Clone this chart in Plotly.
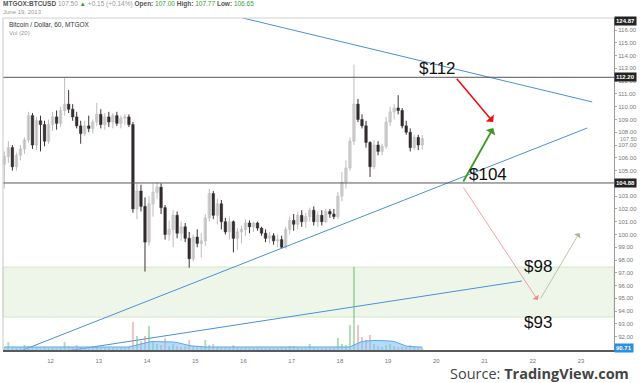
import plotly.graph_objects as go
import pandas as pd

# ---------------- data (2-hour candles, MTGOX BTCUSD, from 2013-06-11 00:00) ----------------
opens = [105.5, 106.1, 106.8, 105.3, 106.2, 106.7, 107.4, 109.3, 107.0, 108.9,
         108.6, 107.3, 108.6, 109.2, 108.7, 109.7, 110.2, 109.8, 109.2, 108.5,
         107.9, 108.5, 108.3, 108.8, 109.4, 108.6, 109.2, 108.8, 109.3, 108.7,
         109.1, 109.2, 108.6, 102.0, 103.4, 102.2, 99.4, 102.4, 103.3, 103.7,
         102.1, 100.0, 100.4, 101.5, 100.1, 100.6, 99.7, 98.1, 99.8, 99.3,
         99.5, 101.3, 103.2, 101.5, 102.4, 101.0, 100.2, 101.0, 99.7, 100.2,
         100.4, 100.9, 100.6, 100.9, 100.5, 100.1, 99.7, 99.9, 99.5, 99.6,
         99.0, 100.4, 101.1, 100.8, 101.5, 101.0, 101.4, 101.9, 101.0, 101.5,
         101.0, 101.8, 101.6, 101.4, 103.0, 104.1, 105.2, 107.3, 110.2, 109.0,
         108.5, 107.2, 105.3, 107.0, 106.5, 106.9, 108.8, 109.6, 109.9, 109.7,
         108.5, 108.0, 106.8, 107.6, 107.0]
highs = [106.5, 107.3, 107.0, 106.4, 107.0, 107.6, 109.6, 109.5, 109.2, 109.3,
         108.9, 109.0, 109.6, 109.7, 110.0, 112.25, 111.3, 110.2, 109.6, 108.9,
         108.9, 109.3, 109.0, 110.3, 109.8, 109.5, 109.6, 109.5, 109.6, 109.3,
         109.4, 109.4, 108.8, 104.0, 103.9, 102.9, 103.0, 104.0, 104.1, 104.0,
         102.3, 101.1, 101.9, 101.8, 101.0, 100.9, 100.2, 100.0, 100.4, 100.1,
         101.6, 103.6, 103.4, 102.8, 102.7, 101.3, 101.4, 101.1, 100.5, 100.7,
         101.2, 101.1, 101.0, 101.0, 100.6, 100.4, 100.2, 100.1, 100.0, 99.9,
         100.6, 101.4, 101.6, 101.8, 101.9, 101.7, 102.1, 102.2, 101.8, 101.9,
         102.0, 102.0, 102.0, 103.3, 104.9, 105.8, 107.6, 113.3, 110.6, 109.4,
         108.9, 107.3, 107.4, 107.3, 107.1, 109.2, 110.0, 110.2, 110.9, 109.9,
         108.9, 108.3, 107.8, 107.8, 107.77]
lows = [103.6, 105.6, 105.0, 105.0, 105.8, 106.3, 107.2, 106.7, 106.6, 106.5,
        106.9, 107.1, 108.1, 108.2, 108.4, 109.3, 109.5, 108.9, 108.3, 107.1,
        107.7, 108.0, 107.9, 108.5, 108.3, 108.2, 108.4, 108.3, 108.5, 108.3,
        108.6, 108.4, 101.7, 101.2, 101.8, 97.1, 99.1, 101.4, 102.8, 101.6,
        99.6, 99.5, 99.0, 99.7, 99.5, 99.4, 97.4, 97.9, 99.0, 98.2,
        99.1, 101.0, 101.2, 100.8, 100.4, 100.0, 99.6, 98.6, 98.8, 99.3,
        99.9, 100.1, 100.2, 100.3, 99.9, 99.4, 99.3, 99.2, 99.0, 98.9,
        98.9, 100.0, 100.3, 100.4, 100.6, 100.5, 101.0, 100.7, 100.6, 100.7,
        100.9, 101.3, 101.2, 101.2, 102.6, 103.6, 105.0, 107.0, 108.8, 108.3,
        106.8, 104.5, 105.1, 106.2, 106.2, 106.7, 108.5, 109.0, 109.4, 108.3,
        107.8, 106.5, 106.6, 106.6, 106.65]
closes = [106.1, 106.8, 105.3, 106.2, 106.7, 107.4, 109.3, 107.0, 108.9, 108.6,
          107.3, 108.6, 109.2, 108.7, 109.7, 110.2, 109.8, 109.2, 108.5, 107.9,
          108.5, 108.3, 108.8, 109.4, 108.6, 109.2, 108.8, 109.3, 108.7, 109.1,
          109.2, 108.6, 102.0, 103.4, 102.2, 99.4, 102.4, 103.3, 103.7, 102.1,
          100.0, 100.4, 101.5, 100.1, 100.6, 99.7, 98.1, 99.8, 99.3, 99.5,
          101.3, 103.2, 101.5, 102.4, 101.0, 100.2, 101.0, 99.7, 100.2, 100.4,
          100.9, 100.6, 100.9, 100.5, 100.1, 99.7, 99.9, 99.5, 99.6, 99.0,
          100.4, 101.1, 100.8, 101.5, 101.0, 101.4, 101.9, 101.0, 101.5, 101.0,
          101.8, 101.6, 101.4, 103.0, 104.1, 105.2, 107.3, 110.2, 109.0, 108.5,
          107.2, 105.3, 107.0, 106.5, 106.9, 108.8, 109.6, 109.9, 109.7, 108.5,
          108.0, 106.8, 107.6, 107.0, 107.50]
volumes = [150, 400, 150, 100, 150, 250, 200, 150, 100, 100,
           150, 100, 100, 100, 150, 400, 200, 150, 250, 150,
           100, 100, 100, 150, 100, 100, 100, 100, 100, 100,
           100, 150, 1400, 700, 450, 700, 1200, 400, 300, 250,
           600, 200, 300, 200, 150, 200, 500, 200, 150, 150,
           500, 250, 300, 150, 150, 150, 100, 250, 100, 100,
           150, 100, 100, 100, 100, 100, 100, 100, 100, 150,
           150, 200, 200, 100, 100, 100, 300, 150, 100, 100,
           100, 100, 100, 600, 300, 250, 1250, 4150, 1250, 650,
           500, 750, 300, 200, 150, 250, 300, 200, 150, 150,
           150, 250, 150, 150, 100]
volume_ma = [150] * 31 + [150, 200, 250, 325, 375, 400, 425, 425, 425, 425,
                          425, 400, 375, 325, 250, 225, 200, 175, 175] \
    + [150] * 37 + [250, 350, 425, 450, 475, 475, 475, 475, 475, 450,
                    425, 350, 250, 200, 175, 150, 150, 150]

day_ticks = ["2013-06-%02d" % d for d in range(12, 24)]
day_labels = [str(d) for d in range(12, 24)]
price_ticks = list(range(92, 117))

# drawings (time, price)
upper_line = (["2013-06-15 23:37", "2013-06-23 05:34"], [116.94, 110.37])
support_line = (["2013-06-11 07:44", "2013-06-23 03:06"], [90.80, 108.33])
lower_line = (["2013-06-12 07:54", "2013-06-21 18:35"], [90.88, 96.36])
level_112 = 112.3
level_104 = 104.03
zone = (93.54, 97.45)
red_arrow = (["2013-06-20 09:33", "2013-06-21 04:18"], [112.3, 108.8])
green_arrow = (["2013-06-20 13:00", "2013-06-21 04:18"], [104.03, 108.33])
thin_red = (["2013-06-20 13:00", "2013-06-22 02:28"], [103.79, 94.87])
thin_olive = (["2013-06-22 03:27", "2013-06-22 23:10"], [94.87, 100.12])
price_texts = [("$112", "2013-06-20 00:20", 113.0), ("$104", "2013-06-21 01:49", 104.73),
               ("$98", "2013-06-22 02:28", 97.53), ("$93", "2013-06-22 02:28", 93.15)]

# ---------------- figure ----------------
FONT = "Liberation Sans, Arial"
times = pd.date_range("2013-06-11 01:00", periods=len(opens), freq="2h")
up = [c >= o for o, c in zip(opens, closes)]
vol_colors = ["rgba(90,180,90,0.45)" if u else "rgba(210,110,110,0.40)" for u in up]
body_base = [min(o, c) for o, c in zip(opens, closes)]
body_len = [max(abs(c - o), 0.06) for o, c in zip(opens, closes)]
body_colors = ["#dcdcdc" if u else "#2c2525" for u in up]
body_lines = ["#b4b4b4" if u else "#2c2525" for u in up]

fig = go.Figure()
fig.add_trace(go.Scatter(x=times, y=volume_ma, yaxis="y2", mode="lines",
                         line=dict(color="#5aa8ea", width=1), fill="tozeroy",
                         fillcolor="rgba(120,190,245,0.55)", hoverinfo="skip"))
fig.add_trace(go.Bar(x=times, y=volumes, yaxis="y2", marker_color=vol_colors,
                     marker_line_width=0, width=1.0 * 3600000, hoverinfo="skip"))

# wicks
for want_up, col in ((True, "#bdbdbd"), (False, "#3a3232")):
    wx, wy = [], []
    for t, h, l, u in zip(times, highs, lows, up):
        if u == want_up:
            wx += [t, t, None]
            wy += [l, h, None]
    fig.add_trace(go.Scatter(x=wx, y=wy, mode="lines", line=dict(color=col, width=1),
                             hoverinfo="skip"))
# bodies
fig.add_trace(go.Bar(x=times, y=body_len, base=body_base, marker_color=body_colors,
                     marker_line=dict(color=body_lines, width=0.5), width=1.25 * 3600000,
                     hoverinfo="skip"))

for xs, ys in (upper_line, support_line, lower_line):
    fig.add_trace(go.Scatter(x=xs, y=ys, mode="lines", line=dict(color="#4a90da", width=1),
                             hoverinfo="skip"))

shapes = [
    dict(type="rect", xref="paper", yref="y", x0=0, x1=1, y0=zone[0], y1=zone[1],
         fillcolor="#eef6e9", line=dict(color="#d3e6c6", width=1), layer="below"),
    dict(type="line", xref="paper", yref="y", x0=0, x1=1, y0=level_112, y1=level_112,
         line=dict(color="#555555", width=1)),
    dict(type="line", xref="paper", yref="y", x0=0, x1=1, y0=level_104, y1=level_104,
         line=dict(color="#555555", width=1)),
    dict(type="line", xref="paper", yref="paper", x0=0, x1=0, y0=0, y1=1,
         line=dict(color="#c8c8c8", width=1)),
    dict(type="line", xref="paper", yref="paper", x0=0, x1=1, y0=1, y1=1,
         line=dict(color="#d0d0d0", width=1)),
]

ann = []
def arrow(seg, color, width, size):
    (x0, x1), (y0, y1) = seg
    ann.append(dict(x=x1, y=y1, ax=x0, ay=y0, xref="x", yref="y", axref="x", ayref="y",
                    showarrow=True, arrowhead=1, arrowsize=size, arrowwidth=width,
                    arrowcolor=color, text=""))
arrow(red_arrow, "#ee1111", 1.6, 1.1)
arrow(green_arrow, "#3c9a22", 1.8, 1.0)
arrow(thin_red, "#f08a8a", 0.8, 1.6)
arrow(thin_olive, "#a9b994", 0.8, 1.6)

for txt, xx, yy in price_texts:
    ann.append(dict(x=xx, y=yy, xref="x", yref="y", text=txt, showarrow=False,
                    font=dict(family=FONT, size=17, color="#111")))

hdr_font = dict(family=FONT, size=6.5, color="#555")
g = "#33a133"
ann += [
    dict(xref="paper", yref="paper", x=-0.004, y=1.042, xanchor="left", yanchor="middle", showarrow=False,
         font=hdr_font,
         text=("<b>MTGOX:BTCUSD</b> <span style='color:#999'>107.50</span> "
               f"<span style='color:{g}'>▲</span> <span style='color:#999'>+0.15 (+0.14%)</span> "
               f"<b>Open:</b> <span style='color:{g}'>107.00</span> <b>High:</b> "
               f"<span style='color:{g}'>107.77</span> <b>Low:</b> <span style='color:{g}'>106.65</span>")),
    dict(xref="paper", yref="paper", x=-0.004, y=1.018, xanchor="left", yanchor="middle", showarrow=False,
         font=dict(family=FONT, size=6, color="#999"), text="June 19, 2013"),
    dict(xref="paper", yref="paper", x=0.006, y=0.979, xanchor="left", yanchor="middle", showarrow=False,
         font=dict(family=FONT, size=6.5, color="#333"), text="Bitcoin / Dollar, 60, MTGOX"),
    dict(xref="paper", yref="paper", x=0.006, y=0.955, xanchor="left", yanchor="middle", showarrow=False,
         font=dict(family=FONT, size=6, color="#999"), text="Vol (20)"),
    dict(xref="paper", yref="paper", x=1.0275, y=-0.072, xanchor="right", yanchor="middle", showarrow=False,
         font=dict(family="Open Sans, Liberation Sans", size=14.5, color="#444"),
         text="Source: <b>TradingView.com</b>"),
]

def axis_box(y, yref, text, bg, fg="white"):
    ann.append(dict(xref="paper", yref=yref, x=1, y=y, xanchor="left", yanchor="middle",
                    xshift=0, showarrow=False, text=text, bgcolor=bg, borderpad=1,
                    font=dict(family=FONT, size=6, color=fg)))
axis_box(0.991, "paper", "<b>124.87</b>", "#222")
axis_box(level_112, "y", "<b>112.20</b>", "#222")
axis_box(level_104, "y", "<b>104.88</b>", "#222")
axis_box(0.005, "paper", "<b>90.71</b>", "#2a8fe0")
ann.append(dict(xref="paper", yref="y", x=1, y=107.47, xanchor="left", yanchor="middle", xshift=4,
                showarrow=False, text="107.50", font=dict(family=FONT, size=5.5, color="#888")))

fig.update_layout(
    width=640, height=383, margin=dict(l=3, r=20, t=18, b=33),
    paper_bgcolor="white", plot_bgcolor="white", showlegend=False,
    shapes=shapes, annotations=ann, barmode="overlay",
    xaxis=dict(type="date", range=["2013-06-11 00:20", "2013-06-23 16:25"],
               tickvals=day_ticks, ticktext=day_labels,
               showgrid=False, zeroline=False, showline=True, linecolor="#5a5a5a", linewidth=1.5,
               ticks="", ticklabelstandoff=4,
               tickfont=dict(family=FONT, size=6, color="#777")),
    yaxis=dict(side="right", range=[90.96, 116.94], tickvals=price_ticks, tickformat=".2f",
               showgrid=False, zeroline=False, showline=True, linecolor="#999", linewidth=1,
               ticks="outside", ticklen=2, tickcolor="#aaa",
               tickfont=dict(family=FONT, size=6, color="#777")),
    yaxis2=dict(overlaying="y", range=[0, 16600], visible=False, fixedrange=True),
)

fig.write_html("out.html", config={"displayModeBar": False},
               post_script="document.body.style.margin='0';document.body.style.padding='0';")
